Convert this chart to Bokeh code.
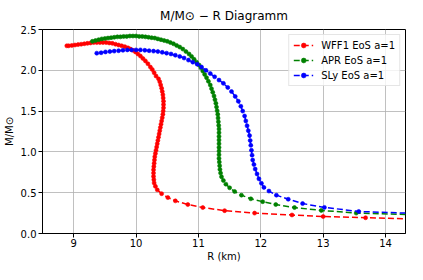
from bokeh.plotting import figure
from bokeh.models import Legend, LegendItem, Range1d, FixedTicker, CustomJSTickFormatter
from bokeh.embed import file_html
from bokeh.resources import INLINE

# ---- data (R in km, M in solar masses) ----
wff1_R = [15.0, 13.68, 13.0, 12.5, 11.9, 11.42, 11.07, 10.83, 10.63, 10.51, 10.41, 10.34, 10.31,
          10.29, 10.285, 10.28, 10.28, 10.28, 10.285, 10.29, 10.295, 10.30, 10.31, 10.32, 10.33,
          10.34, 10.35, 10.36, 10.37, 10.38, 10.39, 10.40, 10.41, 10.42, 10.43, 10.435, 10.44,
          10.44, 10.44, 10.435, 10.43, 10.42, 10.41, 10.395, 10.38, 10.36,
          10.32, 10.29, 10.26, 10.23, 10.19, 10.15, 10.11, 10.07, 10.03, 9.99, 9.95, 9.91, 9.87,
          9.82, 9.77, 9.72, 9.67, 9.62, 9.57, 9.52, 9.47, 9.42, 9.37, 9.32, 9.27, 9.22, 9.17,
          9.12, 9.07, 9.02, 8.97, 8.92, 8.89]
wff1_M = [0.165, 0.193, 0.208, 0.227, 0.25, 0.28, 0.318, 0.355, 0.40, 0.44, 0.488, 0.535, 0.578,
          0.62, 0.66, 0.70, 0.74, 0.78, 0.82, 0.86, 0.90, 0.94, 0.98, 1.02, 1.06,
          1.10, 1.14, 1.18, 1.22, 1.26, 1.30, 1.34, 1.38, 1.42, 1.46, 1.50, 1.54,
          1.58, 1.62, 1.66, 1.70, 1.74, 1.78, 1.82, 1.86, 1.895,
          1.93, 1.97, 2.01, 2.04, 2.08, 2.115, 2.145, 2.175, 2.20, 2.225, 2.245, 2.26, 2.275,
          2.29, 2.30, 2.31, 2.32, 2.33, 2.335, 2.34, 2.34, 2.34, 2.34, 2.34, 2.335, 2.33, 2.325,
          2.32, 2.315, 2.31, 2.305, 2.30, 2.30]

apr_R = [14.9, 13.53, 12.97, 12.54, 12.24, 12.03, 11.84, 11.69, 11.58, 11.50, 11.44, 11.40, 11.37,
         11.355, 11.345, 11.34, 11.335, 11.33, 11.33, 11.33, 11.33, 11.33, 11.33, 11.33, 11.33,
         11.33, 11.325, 11.32, 11.315, 11.31, 11.30, 11.29, 11.28, 11.265, 11.25, 11.23, 11.21,
         11.19, 11.16, 11.13, 11.10, 11.07, 11.04, 11.01, 10.97, 10.93, 10.89, 10.85, 10.80,
         10.75, 10.70, 10.65, 10.60, 10.55, 10.50, 10.45, 10.40, 10.35, 10.30, 10.25, 10.20,
         10.15, 10.10, 10.05, 10.0, 9.95, 9.90, 9.85, 9.80, 9.75, 9.70, 9.65, 9.60, 9.55, 9.50,
         9.45, 9.40, 9.35, 9.30]
apr_M = [0.222, 0.25, 0.283, 0.318, 0.355, 0.39, 0.425, 0.47, 0.515, 0.56, 0.605, 0.65, 0.695,
         0.74, 0.785, 0.83, 0.875, 0.92, 0.965, 1.01, 1.055, 1.10, 1.145, 1.19, 1.235,
         1.28, 1.325, 1.37, 1.415, 1.46, 1.505, 1.55, 1.595, 1.64, 1.685, 1.73, 1.775,
         1.82, 1.865, 1.91, 1.95, 1.99, 2.03, 2.065, 2.10, 2.135, 2.17, 2.20, 2.23,
         2.26, 2.285, 2.305, 2.325, 2.34, 2.355, 2.365, 2.375, 2.385, 2.395, 2.40, 2.405,
         2.41, 2.415, 2.415, 2.42, 2.42, 2.42, 2.415, 2.415, 2.41, 2.41, 2.405, 2.40, 2.395, 2.39,
         2.385, 2.375, 2.365, 2.355]

sly_R = [14.9, 13.57, 13.02, 12.67, 12.44, 12.25, 12.13, 12.05, 12.01, 11.97, 11.94, 11.91, 11.89,
         11.87, 11.86, 11.85, 11.84, 11.83, 11.82, 11.80, 11.78, 11.76, 11.74, 11.71, 11.68,
         11.64, 11.59, 11.53, 11.47, 11.40, 11.33, 11.26, 11.19, 11.12, 11.05, 10.98, 10.91,
         10.84, 10.77, 10.70, 10.63, 10.56, 10.49, 10.42, 10.35, 10.28, 10.21, 10.14, 10.07,
         10.0, 9.93, 9.86, 9.79, 9.72, 9.65, 9.58, 9.51, 9.44, 9.37]
sly_M = [0.235, 0.27, 0.32, 0.367, 0.42, 0.47, 0.52, 0.565, 0.615, 0.67, 0.73, 0.79, 0.845,
         0.90, 0.96, 1.02, 1.08, 1.14, 1.20, 1.26, 1.32, 1.38, 1.44, 1.50, 1.56,
         1.62, 1.68, 1.74, 1.79, 1.84, 1.88, 1.92, 1.96, 2.00, 2.04, 2.075, 2.10,
         2.125, 2.15, 2.17, 2.185, 2.20, 2.21, 2.22, 2.23, 2.235, 2.24, 2.245, 2.25,
         2.25, 2.25, 2.25, 2.245, 2.24, 2.235, 2.23, 2.225, 2.215, 2.21]

series = [
    ("WFF1 EoS a=1", wff1_R, wff1_M, "#ff0000"),
    ("APR EoS a=1", apr_R, apr_M, "#008000"),
    ("SLy EoS a=1", sly_R, sly_M, "#0000ff"),
]
x_ticks = [9, 10, 11, 12, 13, 14]
y_ticks = [0.0, 0.5, 1.0, 1.5, 2.0, 2.5]
title_text = "M/M\u2299 \u2212 R Diagramm"
x_label = "R (km)"
y_label = "M/M\u2299"

FONT = "DejaVu Sans"

p = figure(width=407, height=264, output_backend="svg", toolbar_location=None,
           x_range=Range1d(8.5, 14.32), y_range=Range1d(0.0, 2.5),
           min_border_left=18, min_border_right=2, min_border_top=4, min_border_bottom=2,
           title=title_text)
p.background_fill_color = "white"
p.border_fill_color = "white"
p.outline_line_color = "black"
p.outline_line_width = 1
p.outline_line_alpha = 1

p.title.text_font = FONT
p.title.text_font_size = "12px"
p.title.text_font_style = "normal"
p.title.text_color = "black"
p.title.align = "center"
p.title.standoff = 13
p.title.offset = 0

for ax in (p.xaxis[0], p.yaxis[0]):
    ax.axis_line_color = "black"
    ax.major_tick_line_color = "black"
    ax.major_tick_out = 4
    ax.major_tick_in = 0
    ax.minor_tick_line_color = None
    ax.major_label_text_font = FONT
    ax.major_label_text_font_size = "10px"
    ax.major_label_text_color = "black"
    ax.major_label_standoff = 2
    ax.axis_label_text_font = FONT
    ax.axis_label_text_font_size = "10px"
    ax.axis_label_text_font_style = "normal"
    ax.axis_label_text_color = "black"
    ax.axis_label_standoff = 3
p.xaxis[0].major_label_standoff = 1
p.xaxis[0].axis_label_standoff = 1

p.xaxis[0].ticker = FixedTicker(ticks=x_ticks)
p.yaxis[0].ticker = FixedTicker(ticks=y_ticks)
p.yaxis[0].formatter = CustomJSTickFormatter(code="return tick.toFixed(1);")
p.xaxis[0].axis_label = x_label
p.yaxis[0].axis_label = y_label

for g in (p.xgrid[0], p.ygrid[0]):
    g.grid_line_color = "#b0b0b0"
    g.grid_line_width = 0.8
p.xgrid[0].ticker = FixedTicker(ticks=x_ticks)
p.ygrid[0].ticker = FixedTicker(ticks=y_ticks)

items = []
for label, xs, ys, col in series:
    ln = p.line(xs, ys, line_color=col, line_width=1.5, line_dash="6 3")
    sc = p.scatter(xs, ys, size=4, fill_color=col, line_color=col, line_width=0.6)
    items.append(LegendItem(label=label, renderers=[ln, sc]))

legend = Legend(items=items, location="top_right")
legend.label_text_font = FONT
legend.label_text_font_size = "10px"
legend.label_text_color = "black"
legend.label_height = 12
legend.glyph_height = 12
legend.glyph_width = 20
legend.label_standoff = 8
legend.spacing = 3
legend.padding = 4
legend.margin = 5
legend.border_line_color = "#cccccc"
legend.border_line_width = 1
legend.background_fill_color = "white"
legend.background_fill_alpha = 0.8
p.add_layout(legend)

open("out.html", "w").write(file_html(p, INLINE))
